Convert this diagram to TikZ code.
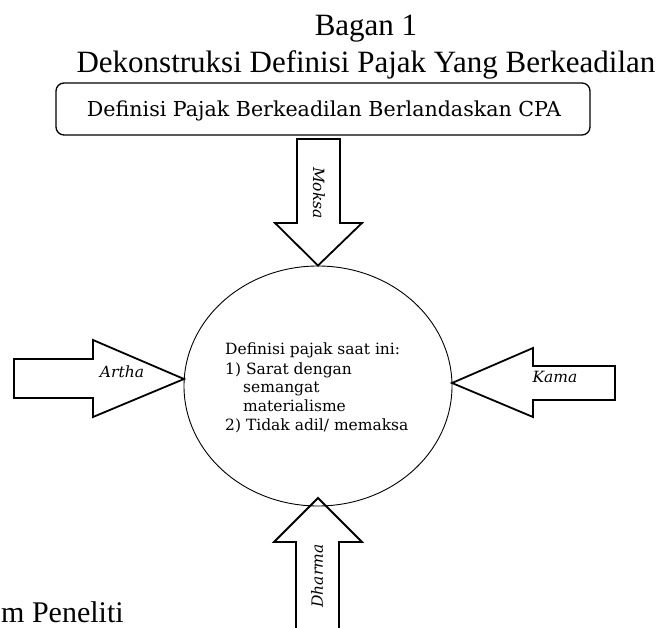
\documentclass[tikz,border=0pt]{standalone}
\usepackage{fontspec}
\setmainfont{Liberation Serif}
\newfontfamily\dvs{DejaVu Serif}
\usetikzlibrary{shapes.geometric}
\begin{document}
\begin{tikzpicture}[x=1pt,y=-1pt,
  blk/.style={draw=black, line width=1.8pt, line join=miter},
  lbl/.style={font=\dvs\itshape\fontsize{15.5}{18}\selectfont, inner sep=0pt},
  body/.style={font=\dvs\fontsize{15.5}{18}\selectfont, inner sep=0pt, anchor=base west},
  ttl/.style={font=\fontsize{31}{37}\selectfont, inner sep=0pt, anchor=base}]
\useasboundingbox (0,0) rectangle (664,628);
\clip (0,0) rectangle (664,628);

% titles
\node[ttl] (t1) at (366,36) {Bagan 1};
\node[ttl] (t2) at (366,73) {Dekonstruksi Definisi Pajak Yang Berkeadilan};
\node[ttl, anchor=base west, font=\fontsize{30}{36}\selectfont] (src) at (1,622) {m Peneliti};

% top box
\node[draw, rounded corners=8pt, line width=1.3pt, minimum width=534pt, minimum height=52pt, inner sep=0pt] (box) at (323,109) {};
\node[font=\dvs\fontsize{20.6}{24}\selectfont, anchor=base, inner sep=0pt] (boxt) at (324,117) {Definisi Pajak Berkeadilan Berlandaskan CPA};

% ellipse
\node[draw, ellipse, line width=0.9pt, minimum width=268pt, minimum height=240pt, inner sep=0pt] (c) at (318,386) {};

% tips
\coordinate (tipA) at (184,379);
\coordinate (tipK) at (452,383);
\coordinate (tipD) at (318,498);

% block arrows
\draw[blk] (297,139) -- (297,223) -- (275,223) -- (c.north) -- (362,223) -- (340,223) -- (340,139) -- cycle;
\draw[blk] (14,359) -- (93,359) -- (93,340) -- (tipA) -- (93,417) -- (93,398) -- (14,398) -- cycle;
\draw[blk] (615,366) -- (533,366) -- (533,348) -- (tipK) -- (533,417) -- (533,400) -- (615,400) -- cycle;
\draw[blk] (296,640) -- (296,542) -- (274,542) -- (tipD) -- (362,542) -- (339,542) -- (339,640);

% arrow labels
\node[lbl, rotate=-90] (moksa) at (319,193) {Moksa};
\node[lbl] (artha) at (122,372) {Artha};
\node[lbl] (kama) at (555,377) {Kama};
\node[lbl, rotate=90] (dharma) at (317,576) {Dharma};

% ellipse text
\node[body] (l1) at (225,355) {Definisi pajak saat ini:};
\node[body] (l2) at (225,374) {1) Sarat dengan};
\node[body] (l3) at (243,392) {semangat};
\node[body] (l4) at (243,411) {materialisme};
\node[body] (l5) at (225,430) {2) Tidak adil/ memaksa};
\end{tikzpicture}
\end{document}
